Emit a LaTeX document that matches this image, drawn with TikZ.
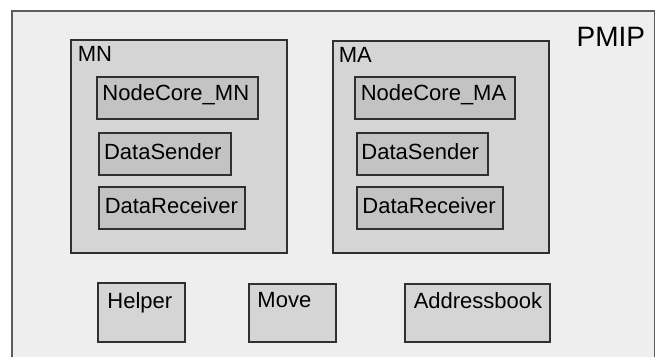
\documentclass[tikz,border=0pt]{standalone}
\usepackage{fontspec}
\setmainfont{Liberation Sans}
\definecolor{pmipframe}{HTML}{5C5C5C}
\definecolor{pmipbg}{HTML}{EEEEEE}
\definecolor{pmipgroup}{HTML}{D5D5D5}
\definecolor{pmippart}{HTML}{C3C3C3}
\definecolor{pmipline}{HTML}{303030}

\begin{document}
\begin{tikzpicture}[x=1pt,y=-1pt,
  group/.style={draw=pmipline,fill=pmipgroup,line width=1.5pt,anchor=north west,align=left,inner ysep=0pt,font=\fontsize{22}{26}\selectfont},
  part/.style={draw=pmipline,fill=pmippart,line width=1.5pt,anchor=north west,align=left,inner ysep=0pt,font=\fontsize{22}{26}\selectfont},
  unit/.style={draw=pmipline,fill=pmipgroup,line width=1.5pt,anchor=north west,align=left,inner ysep=0pt,inner xsep=9pt,font=\fontsize{22}{26}\selectfont}]

  \clip (0,0) rectangle (655,356);
  \fill[white] (0,0) rectangle (655,356);

  % PMIP frame (runs past the lower edge)
  \draw[pmipframe,fill=pmipbg,line width=1.2pt] (12,11) rectangle (654.5,370);
  \node[anchor=base west,inner sep=0pt,font=\fontsize{28}{32}\selectfont] (pmip) at (576.5,46) {PMIP};

  % mobile node
  \node[group,inner xsep=7pt,text width=202pt,text height=22pt,text depth=191pt] (mn) at (70,39) {MN};
  \node[part,inner xsep=5.7pt,text width=149.6pt,text height=24pt,text depth=18pt] (coreMN) at (96,76) {NodeCore\_MN};
  \node[part,inner xsep=5.3pt,text width=121.4pt,text height=26.3pt,text depth=15.7pt] (senderMN) at (98,132) {DataSender};
  \node[part,inner xsep=6pt,text width=134pt,text height=26.7pt,text depth=15.3pt] (recvMN) at (98,186) {DataReceiver};

  % mobility agent
  \node[group,inner xsep=6pt,text width=204pt,text height=22pt,text depth=190pt] (ma) at (332,40) {MA};
  \node[part,inner xsep=6pt,text width=148pt,text height=24pt,text depth=18pt] (coreMA) at (354,76) {NodeCore\_MA};
  \node[part,inner xsep=4.7pt,text width=121.6pt,text height=26.3pt,text depth=15.7pt] (senderMA) at (356,132) {DataSender};
  \node[part,inner xsep=5.7pt,text width=134.6pt,text height=26.7pt,text depth=15.3pt] (recvMA) at (356,186) {DataReceiver};

  % helper classes
  \node[unit,inner xsep=9.7pt,text width=67.6pt,text height=25.7pt,text depth=33.3pt] (helper) at (97,282) {Helper};
  \node[unit,inner xsep=8.7pt,text width=69.6pt,text height=23.7pt,text depth=34.3pt] (move) at (248,283) {Move};
  \node[unit,text width=127pt,text height=24.7pt,text depth=33.3pt] (addrbook) at (404,283) {Addressbook};

\end{tikzpicture}
\end{document}
